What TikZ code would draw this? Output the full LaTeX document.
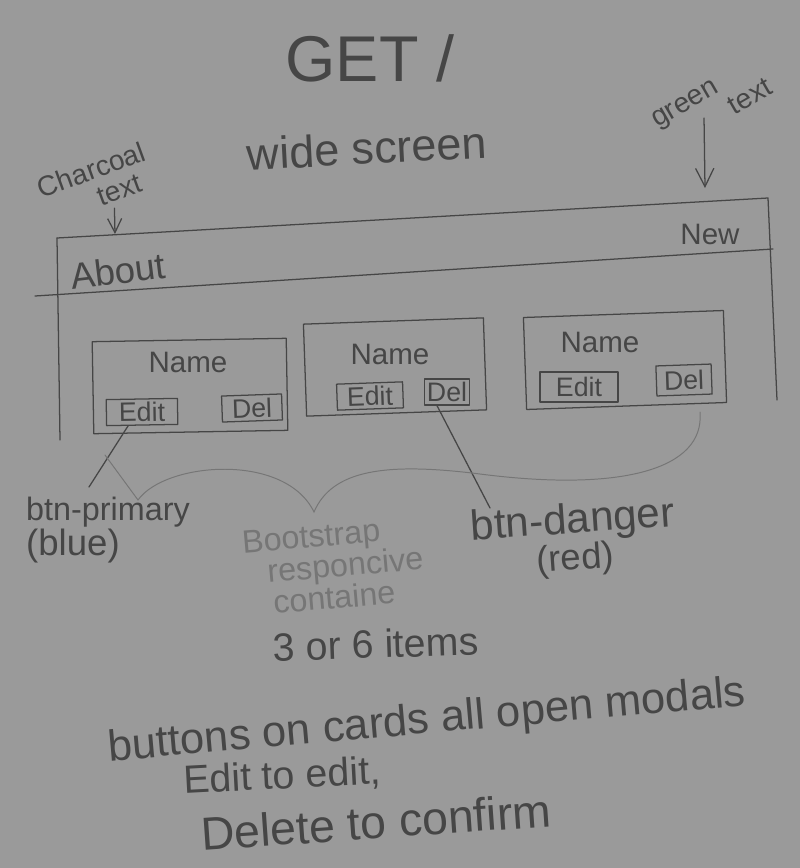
\documentclass[tikz,border=0pt]{standalone}
\usepackage{fontspec}
\setmainfont{Liberation Sans}
\usetikzlibrary{positioning,arrows.meta}
\definecolor{paper}{RGB}{154,154,154}
\definecolor{pencil}{RGB}{70,70,70}
\definecolor{faint}{RGB}{118,118,118}
\tikzset{
  pen/.style={draw=pencil, line width=0.9pt, line cap=round, line join=round},
  faintpen/.style={draw=faint, line width=0.7pt, line cap=round},
  scrawl/.style={text=pencil, inner sep=0pt, font=\fontsize{#1}{#1}\selectfont},
  card/.style={pen, minimum width=#1, minimum height=2.3cm},
  btn/.style={pen, inner sep=1pt, text=pencil, minimum height=0.65cm, font=\fontsize{19}{19}\selectfont},
  vtip/.style={-{Straight Barb[length=#1, width=#1]}}
}
\begin{document}
\begin{tikzpicture}[x=0.025cm, y=-0.025cm]
  \fill[paper] (0,0) rectangle (800,868);
  \useasboundingbox (0,0) rectangle (800,868);

  \node[scrawl=46] (get) at (370,58) {GET /};
  \node[scrawl=32, rotate=3] (wide) at (367,148) {wide screen};

  \node[scrawl=20, rotate=20, align=left, font=\fontsize{20}{20}\selectfont] (charcoal) at (96,183) {Charcoal\\\hspace*{1.9em}text};
  \node[scrawl=20, rotate=30, align=left, font=\fontsize{20}{20}\selectfont] (green) at (712,104) {green\\\hspace*{2.6em}text};

  \coordinate (navtl) at (57,238);
  \coordinate (navtr) at (768,198);
  \coordinate (navbl) at (35,296);
  \coordinate (navbr) at (773,249);
  \coordinate (boxbl) at (60,440);
  \coordinate (boxbr) at (777,400);
  \coordinate (charpt) at (115,234);
  \coordinate (greenpt) at (705,188);

  \draw[pen] (navtl) -- (navtr) -- (boxbr);
  \draw[pen] (navbl) -- (navbr);
  \draw[pen] (navtl) -- (boxbl);

  \draw[pen, vtip=10pt] (charcoal.south) ++(10,2) -- (charpt);
  \draw[pen, vtip=13pt] (green.south) ++(-19,-5) -- (greenpt);

  \node[scrawl=26, rotate=7] (about) at (118,271) {About};
  \node[scrawl=21] (new) at (710,234) {New};

  \node[card=4.85cm, rotate=1] (card1) at (190,386) {};
  \node[card=4.5cm, rotate=2] (card2) at (395,367) {};
  \node[card=5cm, rotate=2] (card3) at (625,360) {};

  \node[scrawl=21] (name1) at (188,362) {Name};
  \node[scrawl=21] (name2) at (390,354) {Name};
  \node[scrawl=21] (name3) at (600,342) {Name};

  \node[btn, minimum width=1.78cm, rotate=1] (edit1) at (142,412) {Edit};
  \node[btn, minimum width=1.5cm, rotate=2] (del1) at (252,408) {Del};
  \node[btn, minimum width=1.65cm, rotate=2] (edit2) at (370,396) {Edit};
  \node[btn, minimum width=1.12cm] (del2) at (447,392) {Del};
  \node[btn, minimum width=1.95cm, minimum height=0.75cm] (edit3) at (579,387) {Edit};
  \node[btn, minimum width=1.38cm, minimum height=0.75cm, rotate=2] (del3) at (684,380) {Del};

  \node[scrawl=23, align=left, font=\fontsize{23}{22}\selectfont] (primary) at (108,530) {btn-primary\\{\fontsize{26}{26}\selectfont(blue)}};
  \node[scrawl=30, rotate=4, align=center, font=\fontsize{30}{24}\selectfont] (danger) at (574,540) {btn-danger\\{\fontsize{26}{26}\selectfont(red)}};
  \node[scrawl=23, text=faint, rotate=5, align=left, font=\fontsize{23}{20}\selectfont] (boot) at (334,566) {Bootstrap\\\hspace*{0.7em}responcive\\\hspace*{0.8em}containe};
  \node[scrawl=28, rotate=2] (items) at (376,644) {3 or 6 items};

  \coordinate (primend) at (89,487);
  \coordinate (braceL) at (105,455);
  \coordinate (bracetip) at (314,512);
  \coordinate (braceR) at (700,412);
  \coordinate (dangerend) at (490,508);

  \draw[pen] (edit1.south) ++(-14,0) -- (primend);
  \draw[pen] (del2.south) ++(-10,0) -- (dangerend);
  \draw[faintpen] (braceL) -- (138,500) .. controls (165,462) and (285,452) .. (bracetip)
    .. controls (332,470) and (385,462) .. (480,474)
    .. controls (620,492) and (705,470) .. (braceR);

  \node[scrawl=31, rotate=5] (modals) at (427,722) {buttons on cards all open modals};
  \node[scrawl=28, rotate=3] (editto) at (282,777) {Edit to edit,};
  \node[scrawl=33, rotate=4] (delto) at (376,822) {Delete to confirm};
\end{tikzpicture}
\end{document}
